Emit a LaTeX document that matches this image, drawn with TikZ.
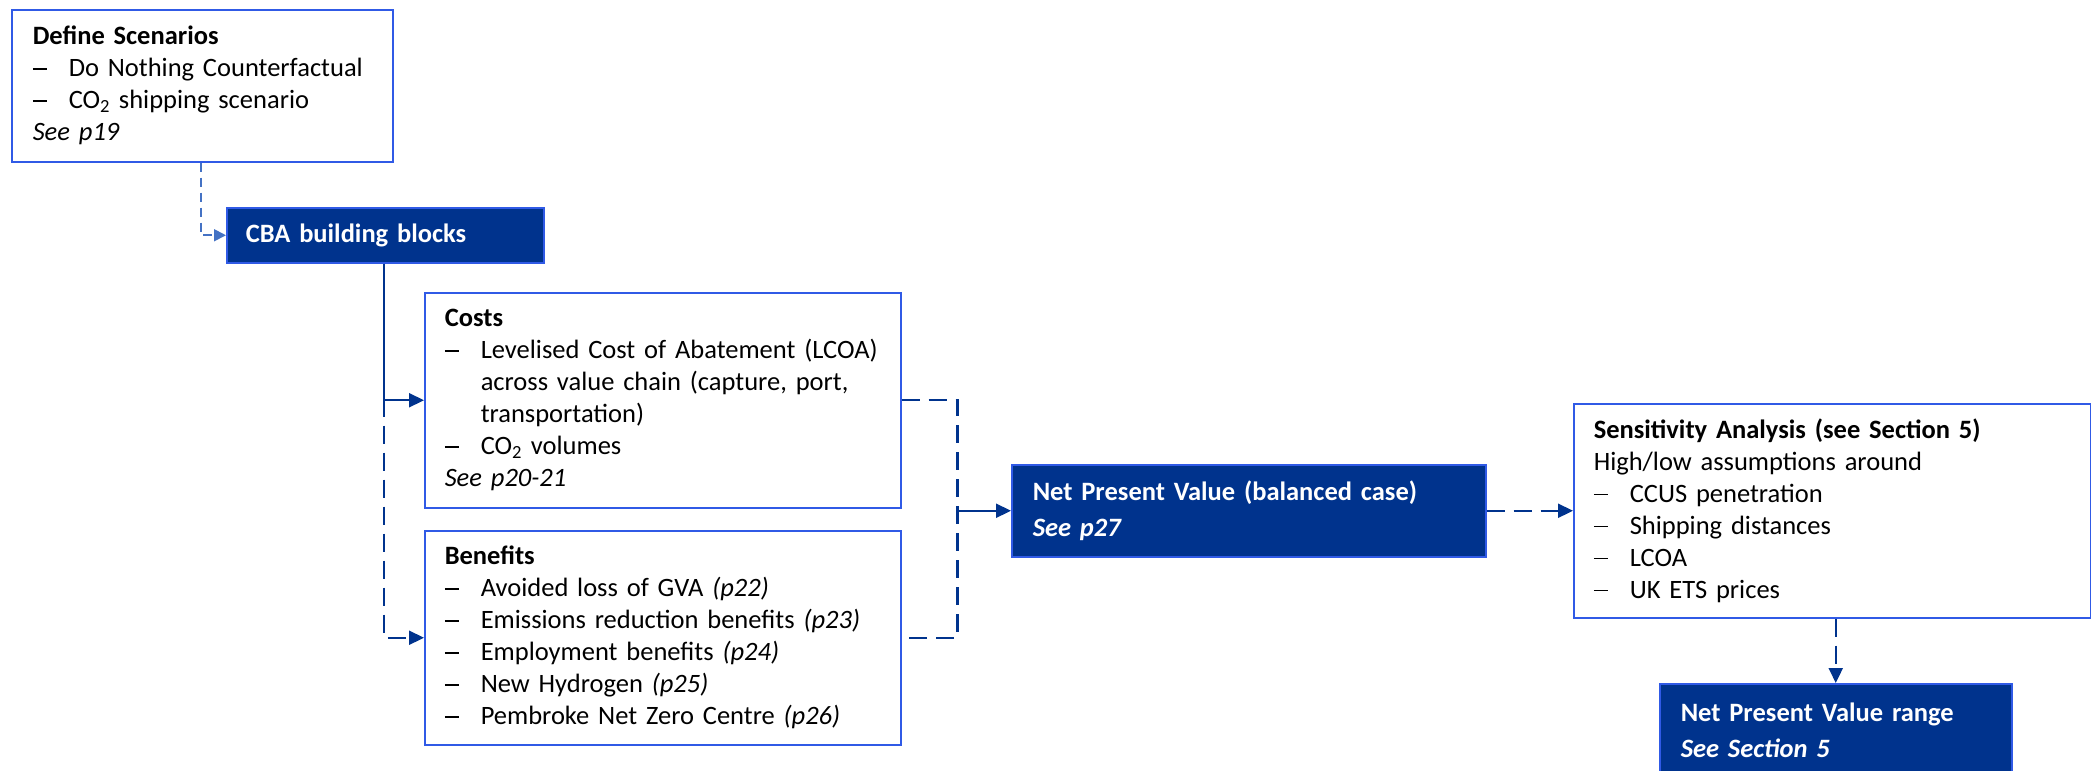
\documentclass[tikz,border=0pt]{standalone}
\usepackage{fontspec}
\setmainfont{Carlito}
\usetikzlibrary{positioning,arrows.meta,calc}

\definecolor{cbanavy}{RGB}{0,51,141}
\definecolor{cbaedge}{RGB}{48,90,230}
\definecolor{cbalight}{RGB}{68,114,196}

\newcommand{\itm}[1]{\makebox[36pt][l]{\rule[7pt]{14pt}{1.8pt}}\mbox{#1}}
\newcommand{\cont}[1]{\hspace*{36pt}\mbox{#1}}

\tikzset{
  box/.style={draw=cbaedge, line width=1.5pt, fill=white, anchor=north west,
    align=left, inner xsep=20pt, inner ysep=0pt,
    font=\fontsize{26.5}{32}\selectfont},
  darkbox/.style={box, fill=cbanavy, text=white,
    font=\fontsize{26.5}{36}\selectfont\bfseries},
  link/.style={draw=cbanavy, line width=2.2pt, -{Triangle[length=15pt,width=14pt]}},
  dlink/.style={link, dash pattern=on 18pt off 9pt},
}

\begin{document}
\begin{tikzpicture}[x=1pt,y=-1pt]
  \useasboundingbox (0,0) rectangle (2091,771);

  % boxes
  \node[box, inner xsep=21pt, text width=339pt, minimum height=152pt] (scen) at (11,9)
    {\textbf{Define Scenarios}\\
     \itm{Do Nothing Counterfactual}\\
     \itm{CO\textsubscript{2} shipping scenario}\\
     \textit{See p19}};
  \node[darkbox, inner xsep=19pt, text width=279pt, minimum height=55pt] (cba) at (226,207)
    {\mbox{CBA building blocks}};
  \node[box, text width=436pt, minimum height=215pt] (costs) at (424,292)
    {\textbf{Costs}\\
     \itm{Levelised Cost of Abatement (LCOA)}\\
     \cont{across value chain (capture, port,}\\
     \cont{transportation)}\\
     \itm{CO\textsubscript{2} volumes}\\
     \textit{See p20-21}};
  \node[box, text width=436pt, minimum height=214pt] (benefits) at (424,530)
    {\textbf{Benefits}\\
     \itm{Avoided loss of GVA \textit{(p22)}}\\
     \itm{Emissions reduction benefits \textit{(p23)}}\\
     \itm{Employment benefits \textit{(p24)}}\\
     \itm{New Hydrogen \textit{(p25)}}\\
     \itm{Pembroke Net Zero Centre \textit{(p26)}}};
  \node[darkbox, inner xsep=21pt, text width=432pt, minimum height=92pt] (npv) at (1011,464)
    {\mbox{Net Present Value (balanced case)}\\
     \textit{See p27}};
  \node[box, text width=477pt, minimum height=214pt] (sens) at (1573,403)
    {\textbf{Sensitivity Analysis (see Section 5)}\\
     High/low assumptions around\\
     \itm{CCUS penetration}\\
     \itm{Shipping distances}\\
     \itm{LCOA}\\
     \itm{UK ETS prices}};
  \node[darkbox, inner xsep=21pt, text width=310pt, minimum height=94pt] (range) at (1659,683)
    {\mbox{Net Present Value range}\\
     \textit{See Section 5}};

  % connectors
  \draw[link, draw=cbalight, line width=1.8pt, dash pattern=on 9pt off 6pt,
    -{Triangle[length=12pt,width=12pt]}]
    ([xshift=190pt]scen.south west) |- (cba.west);
  \draw[dlink] ([xshift=158pt]cba.south west) |- (benefits.west);
  \draw[link] ([xshift=158pt]cba.south west) |- (costs.west);
  \coordinate (merge) at ($(costs.east)+(56,0)$);
  \draw[dlink,-] (costs.east) -- (merge) |- (benefits.east);
  \draw[link] (merge |- npv.west) -- (npv.west);
  \draw[dlink] (npv.east) -- (sens.west);
  \draw[dlink] (sens.south -| range.north) -- (range.north);
\end{tikzpicture}
\end{document}
